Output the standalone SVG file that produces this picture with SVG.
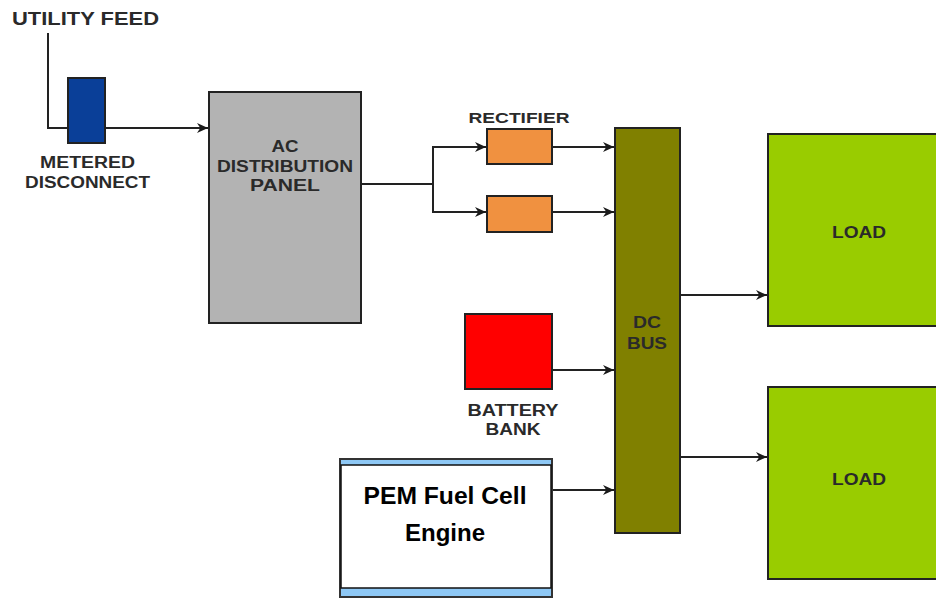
<svg xmlns="http://www.w3.org/2000/svg" width="936" height="598" viewBox="0 0 936 598">
<defs>
<marker id="arr" viewBox="0 0 10 10" refX="10" refY="5" markerWidth="11" markerHeight="11" markerUnits="userSpaceOnUse" orient="auto">
<path d="M0,0.5 L10,5 L0,9.5 L3,5 Z" fill="#1a1a1a"/>
</marker>
</defs>
<style>
.box{stroke:#222;stroke-width:2}
.lbl{font-family:"Liberation Sans",Arial,sans-serif;font-weight:bold;fill:#2a2a2a;text-anchor:middle}
.conn{stroke:#222;stroke-width:2;fill:none}
.arrow{marker-end:url(#arr)}
</style>
<rect width="936" height="598" fill="#ffffff"/>
<text class="lbl" x="85.5" y="25" font-size="18" textLength="147" lengthAdjust="spacingAndGlyphs">UTILITY FEED</text>
<g id="connectors">
<polyline class="conn" points="48,33 48,128 68,128"/>
<line class="conn arrow" x1="105" y1="128" x2="208" y2="128"/>
<polyline class="conn" points="361,184 433,184"/>
<polyline class="conn arrow" points="433,184 433,147 486,147"/>
<polyline class="conn arrow" points="433,184 433,212 486,212"/>
<line class="conn arrow" x1="552" y1="147" x2="614" y2="147"/>
<line class="conn arrow" x1="552" y1="212" x2="614" y2="212"/>
<line class="conn arrow" x1="552" y1="370" x2="614" y2="370"/>
<line class="conn arrow" x1="552" y1="490" x2="614" y2="490"/>
<line class="conn arrow" x1="680" y1="295" x2="767" y2="295"/>
<line class="conn arrow" x1="680" y1="457" x2="767" y2="457"/>
</g>
<g id="metered">
<rect class="box" x="68" y="78" width="37" height="65" fill="#0a3f98"/>
<text class="lbl" x="87.5" y="168" font-size="16" textLength="95" lengthAdjust="spacingAndGlyphs">METERED</text>
<text class="lbl" x="87.5" y="188" font-size="16" textLength="125" lengthAdjust="spacingAndGlyphs">DISCONNECT</text>
</g>
<g id="acpanel">
<rect class="box" x="209" y="92" width="152" height="231" fill="#b3b3b3"/>
<text class="lbl" x="285" y="152" font-size="16" textLength="27" lengthAdjust="spacingAndGlyphs">AC</text>
<text class="lbl" x="285" y="172" font-size="16" textLength="136" lengthAdjust="spacingAndGlyphs">DISTRIBUTION</text>
<text class="lbl" x="285" y="191" font-size="16" textLength="70" lengthAdjust="spacingAndGlyphs">PANEL</text>
</g>
<g id="rectifier1">
<rect class="box" x="487" y="129" width="65" height="35" fill="#f09140"/>
<text class="lbl" x="519" y="123" font-size="15" textLength="101" lengthAdjust="spacingAndGlyphs">RECTIFIER</text>
</g>
<g id="rectifier2">
<rect class="box" x="487" y="196" width="65" height="36" fill="#f09140"/>
</g>
<g id="dcbus">
<rect class="box" x="615" y="128" width="65" height="405" fill="#808000"/>
<text class="lbl" x="647" y="328" font-size="16" textLength="28" lengthAdjust="spacingAndGlyphs">DC</text>
<text class="lbl" x="647" y="349" font-size="16" textLength="40" lengthAdjust="spacingAndGlyphs">BUS</text>
</g>
<g id="battery">
<rect class="box" x="465" y="314" width="87" height="75" fill="#ff0000"/>
<text class="lbl" x="513" y="416" font-size="16" textLength="91" lengthAdjust="spacingAndGlyphs">BATTERY</text>
<text class="lbl" x="513" y="435" font-size="16" textLength="55" lengthAdjust="spacingAndGlyphs">BANK</text>
</g>
<g id="pem">
<rect x="340" y="459" width="212" height="138" fill="#8ec8f5" stroke="#333" stroke-width="2"/>
<rect x="341" y="465" width="210" height="123" fill="#ffffff" stroke="#111" stroke-width="1.5"/>
<text x="445" y="504" font-family="'Liberation Sans',Arial,sans-serif" font-weight="bold" font-size="24" fill="#000" text-anchor="middle" textLength="163" lengthAdjust="spacingAndGlyphs">PEM Fuel Cell</text>
<text x="445" y="541" font-family="'Liberation Sans',Arial,sans-serif" font-weight="bold" font-size="24" fill="#000" text-anchor="middle">Engine</text>
</g>
<g id="load1">
<rect class="box" x="768" y="134" width="180" height="192" fill="#99cc00"/>
<text class="lbl" x="859" y="238" font-size="16" textLength="54" lengthAdjust="spacingAndGlyphs">LOAD</text>
</g>
<g id="load2">
<rect class="box" x="768" y="387" width="180" height="192" fill="#99cc00"/>
<text class="lbl" x="859" y="485" font-size="16" textLength="54" lengthAdjust="spacingAndGlyphs">LOAD</text>
</g>
</svg>
